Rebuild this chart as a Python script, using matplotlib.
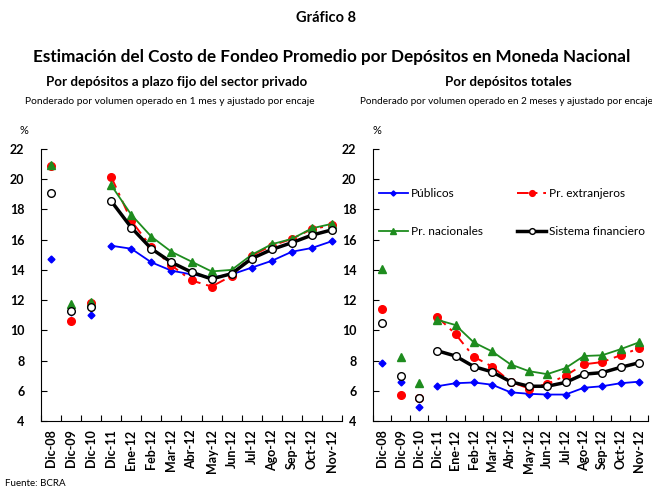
import matplotlib
matplotlib.use("Agg")
import matplotlib.pyplot as plt
import numpy as np

plt.rcParams['font.family'] = ['Lato', 'DejaVu Sans']

categories = ["Dic-08", "Dic-09", "Dic-10", "Dic-11", "Ene-12", "Feb-12", "Mar-12",
              "Abr-12", "May-12", "Jun-12", "Jul-12", "Ago-12", "Sep-12", "Oct-12", "Nov-12"]

# Left panel: plazo fijo sector privado
left_publicos = [14.7, 11.2, 11.0, 15.6, 15.4, 14.5, 13.95, 13.7, 13.5, 13.7, 14.15, 14.6, 15.2, 15.45, 15.9]
left_extranjeros = [20.9, 10.6, 11.8, 20.15, 17.25, 15.5, 14.3, 13.3, 12.9, 13.6, 14.95, 15.6, 16.05, 16.7, 16.95]
left_nacionales = [20.95, 11.75, 11.85, 19.6, 17.65, 16.2, 15.2, 14.55, 13.9, 14.0, 15.0, 15.7, 16.05, 16.75, 17.05]
left_sistema = [19.1, 11.3, 11.55, 18.55, 16.8, 15.4, 14.5, 13.85, 13.4, 13.75, 14.75, 15.35, 15.8, 16.3, 16.65]

# Right panel: depósitos totales
right_publicos = [7.85, 6.6, 4.9, 6.3, 6.5, 6.55, 6.4, 5.9, 5.8, 5.75, 5.75, 6.2, 6.3, 6.5, 6.6]
right_extranjeros = [11.4, 5.7, 5.5, 10.9, 9.75, 8.25, 7.6, 6.6, 6.15, 6.45, 7.0, 7.75, 7.9, 8.35, 8.8]
right_nacionales = [14.05, 8.25, 6.5, 10.7, 10.35, 9.2, 8.6, 7.75, 7.3, 7.1, 7.5, 8.3, 8.35, 8.75, 9.2]
right_sistema = [10.5, 7.0, 5.55, 8.65, 8.3, 7.6, 7.25, 6.6, 6.3, 6.3, 6.55, 7.1, 7.2, 7.55, 7.85]

yticks = [4, 6, 8, 10, 12, 14, 16, 18, 20, 22]

series_labels = ["Públicos", "Pr. extranjeros", "Pr. nacionales", "Sistema financiero"]

styles = [
    dict(color="#0000FF", marker="D", markersize=3.5, lw=1.3, ls="-",
         mfc="#0000FF", mec="#0000FF", zorder=3),
    dict(color="#FF0000", marker="o", markersize=5.5, lw=1.4, ls=(0, (6, 3, 1.5, 3)),
         mfc="#FF0000", mec="#FF0000", zorder=4),
    dict(color="#1E8C1E", marker="^", markersize=5.5, lw=1.3, ls="-",
         mfc="#1E8C1E", mec="#1E8C1E", zorder=5),
    dict(color="black", marker="o", markersize=5.5, lw=2.5, ls="-",
         mfc="white", mec="black", mew=1.0, zorder=6),
]

fig = plt.figure(figsize=(6.52, 4.88), dpi=100)

def draw(ax, data):
    x = np.arange(len(categories))
    handles = []
    for vals, st, lab in zip(data, styles, series_labels):
        v = np.array(vals, dtype=float)
        # isolated annual points
        ax.plot(x[:3], v[:3], ls="none", marker=st["marker"], markersize=st["markersize"],
                mfc=st["mfc"], mec=st["mec"], mew=st.get("mew", 1.0), zorder=st["zorder"],
                clip_on=False)
        h, = ax.plot(x[3:], v[3:], color=st["color"], lw=st["lw"], ls=st["ls"],
                     marker=st["marker"], markersize=st["markersize"], mfc=st["mfc"],
                     mec=st["mec"], mew=st.get("mew", 1.0), zorder=st["zorder"],
                     clip_on=False, label=lab)
        handles.append(h)
    ax.set_xlim(-0.5, len(categories) - 0.5)
    ax.set_ylim(4, 22)
    ax.set_yticks(yticks)
    ax.set_yticklabels([str(t) for t in yticks], fontsize=9, fontweight="bold")
    ax.set_xticks(x)
    ax.set_xticklabels(categories, rotation=90, fontsize=9, fontweight="bold")
    ax.set_xticks(np.arange(len(categories) + 1) - 0.5, minor=True)
    ax.tick_params(axis="x", which="major", length=0, pad=6)
    ax.tick_params(axis="x", which="minor", direction="in", length=4, width=0.8)
    ax.tick_params(axis="y", direction="in", length=4, width=0.8, pad=12)
    for lab in ax.get_yticklabels():
        lab.set_horizontalalignment("right")
    ax.spines["top"].set_visible(False)
    ax.spines["right"].set_visible(False)
    ax.spines["left"].set_linewidth(0.8)
    ax.spines["bottom"].set_linewidth(0.8)
    return handles

axL = fig.add_axes([41 / 652, 1 - 421 / 488, 301 / 652, 272 / 488])
draw(axL, [left_publicos, left_extranjeros, left_nacionales, left_sistema])

axR = fig.add_axes([373 / 652, 1 - 421 / 488, 275 / 652, 272 / 488])
hs = draw(axR, [right_publicos, right_extranjeros, right_nacionales, right_sistema])

leg = axR.legend([hs[0], hs[2], hs[1], hs[3]],
                 [series_labels[0], series_labels[2], series_labels[1], series_labels[3]],
                 ncol=2, frameon=False, fontsize=8.6, handlelength=2.4, handletextpad=0.25,
                 columnspacing=2.9, labelspacing=2.3, loc="upper left", markerscale=0.75,
                 bbox_to_anchor=(0.005, 0.875), borderaxespad=0.2, borderpad=0.2)

fig.text(0.5, 1 - 18 / 488, "Gráfico 8", ha="center", va="center", fontsize=10.5, fontweight="bold")
fig.text(332 / 652, 1 - 57 / 488, "Estimación del Costo de Fondeo Promedio por Depósitos en Moneda Nacional",
         ha="center", va="center", fontsize=12.3, fontweight="bold")
fig.text(177 / 652, 1 - 82 / 488, "Por depósitos a plazo fijo del sector privado",
         ha="center", va="center", fontsize=9.6, fontweight="bold")
fig.text(170 / 652, 1 - 101 / 488, "Ponderado por volumen operado en 1 mes y ajustado por encaje",
         ha="center", va="center", fontsize=7.4)
fig.text(508 / 652, 1 - 82 / 488, "Por depósitos totales",
         ha="center", va="center", fontsize=9.6, fontweight="bold")
fig.text(506 / 652, 1 - 101 / 488, "Ponderado por volumen operado en 2 meses y ajustado por encaje",
         ha="center", va="center", fontsize=7.2)
fig.text(24 / 652, 1 - 131 / 488, "%", ha="center", va="center", fontsize=8)
fig.text(377 / 652, 1 - 130 / 488, "%", ha="center", va="center", fontsize=8)
fig.text(5 / 652, 1 - 484 / 488, "Fuente: BCRA", ha="left", va="center", fontsize=7)

fig.savefig("out.png", dpi=100)
